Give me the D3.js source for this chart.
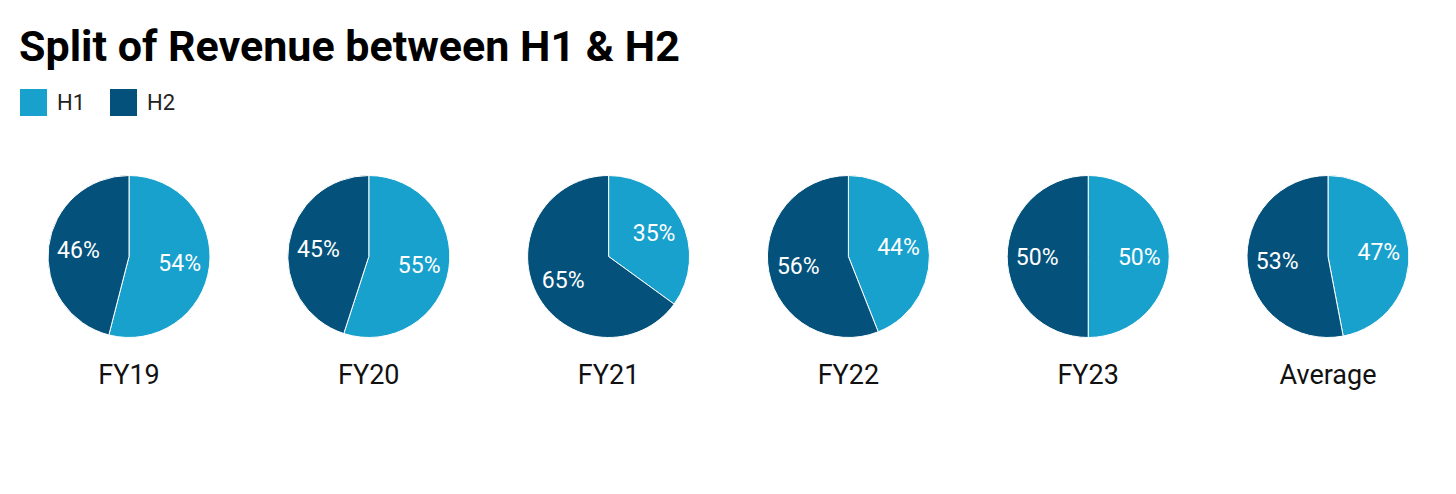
<!DOCTYPE html>
<html><head><meta charset="utf-8">
<script src="https://cdn.jsdelivr.net/npm/d3@7"></script>
<style>body{margin:0;background:#fff;font-family:Roboto,"Noto Sans",sans-serif;}</style>
</head><body>
<svg id="c" width="1456" height="494"></svg>
<script>
const categories = ["FY19","FY20","FY21","FY22","FY23","Average"];
const h1Values = [54,55,35,44,50,47];
const h2Values = [46,45,65,56,50,53];
const seriesNames = ["H1","H2"];
const seriesColors = ["#18a1cd","#04527b"];

const svg = d3.select("#c");
svg.append("text").attr("x",19).attr("y",61).attr("font-size",43).attr("font-weight",700)
  .attr("fill","#000").text("Split of Revenue between H1 & H2");

const leg = svg.append("g");
let lx = 20;
seriesNames.forEach((n,i)=>{
  leg.append("rect").attr("x",lx).attr("y",89).attr("width",27).attr("height",27).attr("fill",seriesColors[i]);
  leg.append("text").attr("x",lx+37).attr("y",110).attr("font-size",22).attr("fill","#222").text(n);
  lx += 90;
});

const x = d3.scalePoint().domain(categories).range([129,1328]);
const color = d3.scaleOrdinal().domain(seriesNames).range(seriesColors);
const r = 81, cy = 256.5;
const pie = d3.pie().sort(null).value(d=>d.v);
const arc = d3.arc().innerRadius(0).outerRadius(r);
const labelArc = d3.arc().innerRadius(r*0.63).outerRadius(r*0.63);

categories.forEach((c,i)=>{
  const g = svg.append("g").attr("transform",`translate(${x(c)},${cy})`);
  const data = pie([{k:"H1",v:h1Values[i]},{k:"H2",v:h2Values[i]}]);
  g.selectAll("path").data(data).join("path").attr("d",arc)
    .attr("fill",d=>color(d.data.k)).attr("stroke","#fff").attr("stroke-width",1);
  g.selectAll("text.l").data(data).join("text").attr("class","l")
    .attr("transform",d=>`translate(${labelArc.centroid(d)})`)
    .attr("text-anchor","middle").attr("dy","0.35em").attr("font-size",23)
    .attr("fill","#fff").text(d=>d.data.v+"%");
  svg.append("text").attr("x",x(c)).attr("y",384).attr("text-anchor","middle")
    .attr("font-size",27).attr("fill","#111").text(c);
});
</script>
</body></html>
